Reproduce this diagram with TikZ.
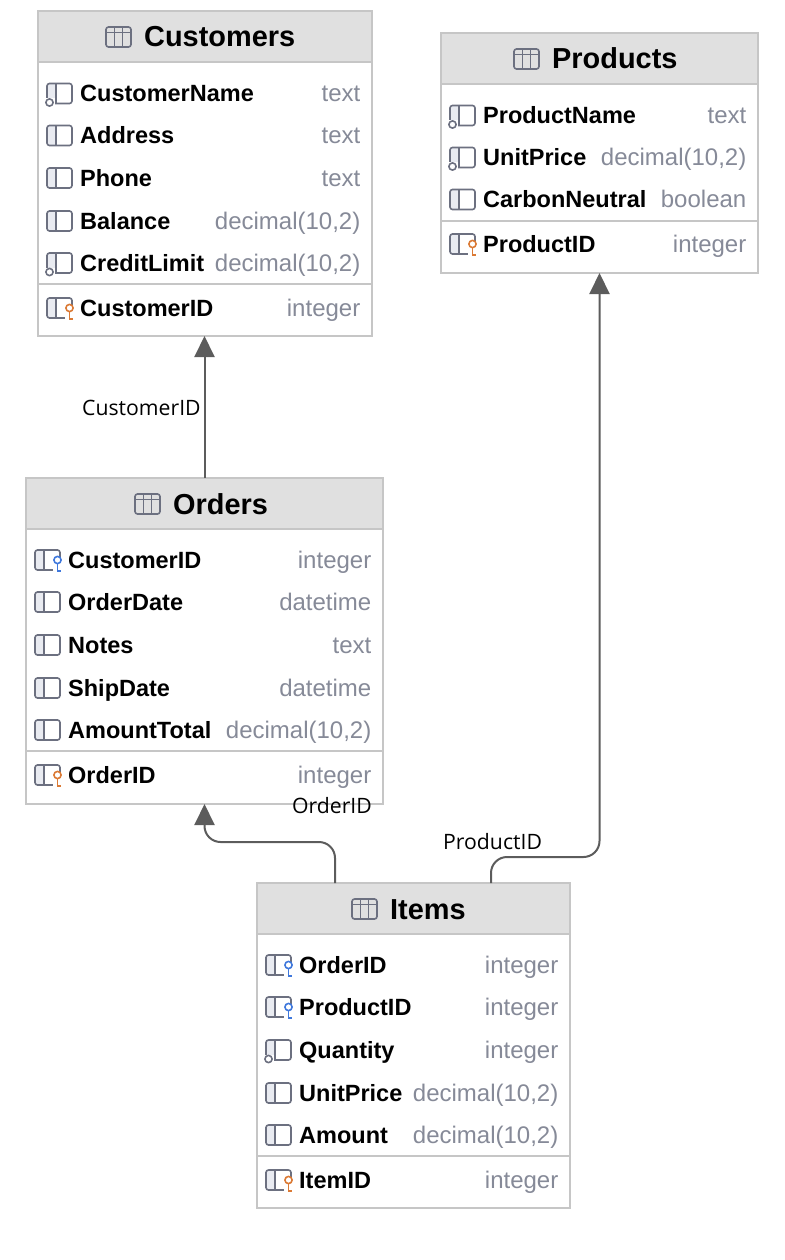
\documentclass[tikz,border=0pt]{standalone}
\usepackage{fontspec}
\setmainfont{Liberation Sans}
\newfontfamily\linkfont{Open Sans}
\usetikzlibrary{positioning,calc,arrows.meta}

\definecolor{tableline}{HTML}{C6C6C6}
\definecolor{headfill}{HTML}{E0E0E0}
\definecolor{iconline}{HTML}{6C7080}
\definecolor{iconfill}{HTML}{E9EBF1}
\definecolor{typetext}{HTML}{868A98}
\definecolor{linkline}{HTML}{5C5C5C}
\definecolor{pkkey}{HTML}{DB7A35}
\definecolor{fkkey}{HTML}{3F78DC}

\tikzset{
  tablebox/.style={draw=tableline,line width=2pt,fill=white,anchor=north west,inner sep=0pt,outer sep=0pt},
  tablehead/.style={draw=tableline,line width=2pt,fill=headfill,anchor=north west,inner sep=0pt,outer sep=0pt,minimum height=51pt},
  tabletitle/.style={anchor=base west,inner sep=0pt,font=\fontsize{28.9}{34}\selectfont\bfseries},
  colname/.style={anchor=base west,inner sep=0pt,font=\fontsize{23.5}{28}\selectfont\bfseries},
  coltype/.style={anchor=base east,inner sep=0pt,text=typetext,font=\fontsize{24}{28}\selectfont},
  linklabel/.style={anchor=base west,inner sep=0pt,font=\fontsize{21.2}{25}\selectfont\linkfont},
  link/.style={draw=linkline,line width=2pt,rounded corners=16pt,-{Triangle[length=21pt,width=20pt]}},
  baseicon/.pic={
    \fill[iconfill,rounded corners=2.5pt] (0,-10) rectangle (9,10);
    \draw[iconline,line width=1.6pt,rounded corners=2.5pt] (0,-10) rectangle (25,10);
    \draw[iconline,line width=1.6pt] (9,-10) -- (9,10);
  },
  colicon/.pic={\pic {baseicon};},
  idxicon/.pic={
    \pic {baseicon};
    \fill[white] (-3,5) rectangle (7.5,13);
    \draw[iconline,line width=1.6pt,fill=white] (2.5,9) circle (3.6);
  },
  pkicon/.pic={
    \pic {baseicon};
    \fill[white] (18,-3) rectangle (28,13);
    \draw[pkkey,line width=1.6pt] (22.5,0) circle (3.6);
    \draw[pkkey,line width=1.6pt] (22.5,3.6) -- (22.5,12) (22.5,11.2) -- (26,11.2);
  },
  fkicon/.pic={
    \pic {baseicon};
    \fill[white] (18,-3) rectangle (28,13);
    \draw[fkkey,line width=1.6pt] (22.5,0) circle (3.6);
    \draw[fkkey,line width=1.6pt] (22.5,3.6) -- (22.5,12) (22.5,11.2) -- (26,11.2);
  },
  gridicon/.pic={
    \draw[iconline,line width=1.6pt,rounded corners=2.5pt,fill=headfill] (0,-10) rectangle (25,10);
    \draw[iconline,line width=1.4pt] (0,-4.5) -- (25,-4.5) (8.3,-10) -- (8.3,10) (16.7,-10) -- (16.7,10);
  }
}

% one column of a table: table, row offset, icon, name, type
\newcommand{\colrow}[5]{
  \pic at ($(#1.north west)+(9,#2)$) {#3};
  \node[colname] (#1-#4) at ($(#1.north west)+(42,#2+8)$) {#4};
  \node[coltype] (#1-#4-type) at ($(#1.north east)+(-11.5,#2+8)$) {#5};
}
% head of a table: table, width, title offset, title
\newcommand{\tablehead}[4]{
  \node[tablehead,minimum width=#2] (#1-head) at (#1.north west) {};
  \pic at ($(#1.north west)+(#3-38,26)$) {gridicon};
  \node[tabletitle] (#1-title) at ($(#1.north west)+(#3,36)$) {#4};
}
\newcommand{\tablesep}[2]{
  \draw[tableline,line width=1.2pt] ($(#1.north west)+(0,#2)$) -- ($(#1.north east)+(0,#2)$);
}

\begin{document}
\begin{tikzpicture}[x=1pt,y=-1pt]
\useasboundingbox (0,0) rectangle (784,1260);

\node[tablebox,minimum width=334pt,minimum height=325pt] (customers) at (38,11) {};
\tablehead{customers}{334pt}{106}{Customers}
\colrow{customers}{82.5}{idxicon}{CustomerName}{text}
\colrow{customers}{124.5}{colicon}{Address}{text}
\colrow{customers}{167}{colicon}{Phone}{text}
\colrow{customers}{210}{colicon}{Balance}{decimal(10,2)}
\colrow{customers}{252}{idxicon}{CreditLimit}{decimal(10,2)}
\tablesep{customers}{273}
\colrow{customers}{297}{pkicon}{CustomerID}{integer}

\node[tablebox,minimum width=317pt,minimum height=240pt] (products) at (441,33) {};
\tablehead{products}{317pt}{111}{Products}
\colrow{products}{82.5}{idxicon}{ProductName}{text}
\colrow{products}{124.5}{idxicon}{UnitPrice}{decimal(10,2)}
\colrow{products}{166.5}{colicon}{CarbonNeutral}{boolean}
\tablesep{products}{188}
\colrow{products}{211}{pkicon}{ProductID}{integer}

\node[tablebox,minimum width=357pt,minimum height=326pt] (orders) at (26,478) {};
\tablehead{orders}{357pt}{147}{Orders}
\colrow{orders}{82}{fkicon}{CustomerID}{integer}
\colrow{orders}{124}{colicon}{OrderDate}{datetime}
\colrow{orders}{167}{colicon}{Notes}{text}
\colrow{orders}{210}{colicon}{ShipDate}{datetime}
\colrow{orders}{252}{colicon}{AmountTotal}{decimal(10,2)}
\tablesep{orders}{273}
\colrow{orders}{297}{pkicon}{OrderID}{integer}

\node[tablebox,minimum width=313pt,minimum height=325pt] (items) at (257,883) {};
\tablehead{items}{313pt}{133}{Items}
\colrow{items}{82}{fkicon}{OrderID}{integer}
\colrow{items}{124}{fkicon}{ProductID}{integer}
\colrow{items}{167}{idxicon}{Quantity}{integer}
\colrow{items}{210}{colicon}{UnitPrice}{decimal(10,2)}
\colrow{items}{252}{colicon}{Amount}{decimal(10,2)}
\tablesep{items}{273}
\colrow{items}{297}{pkicon}{ItemID}{integer}

\coordinate (orderslink) at ($(items.north west)+(78,0)$);
\coordinate (productslink) at ($(items.north west)+(234,0)$);
\coordinate (ordersend) at ($(orders.south)$);

\draw[link] (orders.north) -- (orders.north |- customers.south);
\draw[link] (orderslink) |- (ordersend |- 0,842) -- (ordersend);
\draw[link] (productslink) |- (products.south |- 0,857) -- (products.south);

\node[linklabel] (customerslabel) at (82,415) {CustomerID};
\node[linklabel] (orderslabel) at (292,813) {OrderID};
\node[linklabel] (productslabel) at (443,849) {ProductID};
\end{tikzpicture}
\end{document}
